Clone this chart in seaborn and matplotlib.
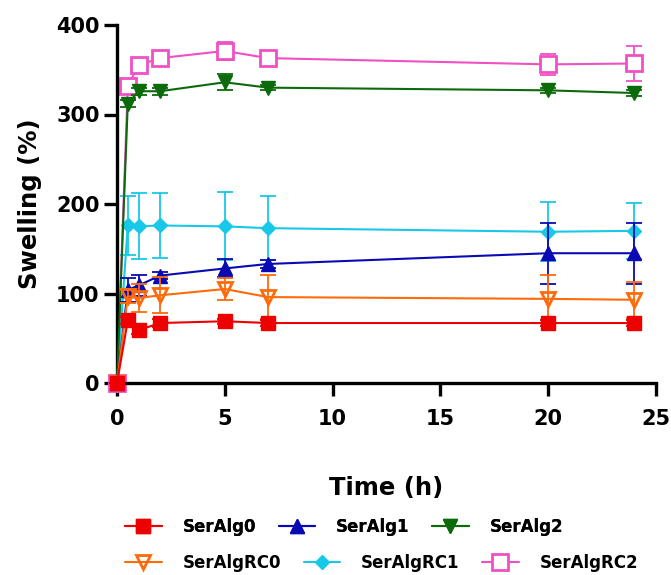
import matplotlib
matplotlib.use("Agg")
import matplotlib.pyplot as plt
import numpy as np
import pandas as pd
import seaborn as sns

# time points (h)
time_h = [0, 0.5, 1, 2, 5, 7, 20, 24]

# swelling means (%) and SD
seralg0     = [0, 70, 59, 67, 69, 67, 67, 67]
seralg0_sd  = [0, 4, 4, 4, 3, 3, 3, 3]
seralg1     = [0, 104, 109, 120, 128, 133, 145, 145]
seralg1_sd  = [0, 13, 12, 4, 10, 4, 34, 34]
seralg2     = [0, 312, 326, 326, 336, 330, 327, 324]
seralg2_sd  = [0, 4, 4, 4, 9, 3, 3, 3]
seralgrc0     = [0, 97, 95, 98, 105, 96, 94, 93]
seralgrc0_sd  = [0, 8, 16, 20, 12, 25, 27, 20]
seralgrc1     = [0, 176, 175, 176, 175, 173, 169, 170]
seralgrc1_sd  = [0, 33, 37, 36, 38, 36, 33, 31]
seralgrc2     = [0, 332, 355, 363, 371, 363, 356, 357]
seralgrc2_sd  = [0, 5, 5, 7, 10, 4, 12, 20]

names   = ["SerAlg0", "SerAlg1", "SerAlg2", "SerAlgRC0", "SerAlgRC1", "SerAlgRC2"]
means   = [seralg0, seralg1, seralg2, seralgrc0, seralgrc1, seralgrc2]
sds     = [seralg0_sd, seralg1_sd, seralg2_sd, seralgrc0_sd, seralgrc1_sd, seralgrc2_sd]
colors  = ["#ee0000", "#0a0ab4", "#0b6b0b", "#ff6a0a", "#18c8e8", "#f050c4"]
markers = ["s", "^", "v", "v", "D", "s"]
msizes  = [10, 10.5, 10.5, 10, 7, 11]
faces   = [None, None, None, "none", None, "white"]

sns.set_style("ticks")
plt.rcParams["font.family"] = ["DejaVu Sans"]
plt.rcParams["font.weight"] = "bold"
plt.rcParams["text.color"] = "black"
plt.rcParams["axes.labelcolor"] = "black"
plt.rcParams["xtick.color"] = "black"
plt.rcParams["ytick.color"] = "black"
plt.rcParams["axes.edgecolor"] = "black"

fig = plt.figure(figsize=(6.71, 5.75), dpi=100)
ax = fig.add_axes([117 / 671, 1 - 383 / 575, 539 / 671, 358 / 575])

# draw pink first so the filled series sit over it at t=0
draw_order = [5, 4, 2, 1, 3, 0]
handles = {}
for k, i in enumerate(draw_order):
    df = pd.DataFrame({"t": time_h, "y": means[i], "sd": sds[i]})
    ax.errorbar(df["t"], df["y"], yerr=df["sd"], fmt="none", ecolor=colors[i],
                elinewidth=1.3, capsize=6, capthick=1.3, zorder=2 + k,
                clip_on=False)
    fc = colors[i] if faces[i] is None else faces[i]
    sns.lineplot(data=df, x="t", y="y", ax=ax, color=colors[i], linewidth=1.5,
                 marker=markers[i], markersize=msizes[i], markerfacecolor=fc,
                 markeredgecolor=colors[i], markeredgewidth=2 if faces[i] else 1,
                 zorder=2.5 + k, clip_on=False, label=names[i])
    handles[names[i]] = ax.get_lines()[-1]

ax.set_xlim(0, 25)
ax.set_ylim(0, 400)
ax.set_xticks([0, 5, 10, 15, 20, 25])
ax.set_yticks([0, 100, 200, 300, 400])
sns.despine(ax=ax)
for s in ["left", "bottom"]:
    ax.spines[s].set_linewidth(2.4)
ax.tick_params(axis="both", width=2.4, length=9.5, labelsize=15)
ax.tick_params(axis="x", pad=9)
ax.tick_params(axis="y", pad=3)
for lab in ax.get_xticklabels() + ax.get_yticklabels():
    lab.set_fontweight("bold")

ax.set_xlabel("Time (h)", fontsize=17.5, fontweight="bold", labelpad=34)
ax.set_ylabel("Swelling (%)", fontsize=17.5, fontweight="bold", labelpad=10)

if ax.get_legend():
    ax.get_legend().remove()

leg_kw = dict(ncol=3, loc="center left", frameon=False, borderpad=0,
              borderaxespad=0, prop={"size": 12, "weight": "bold"},
              handlelength=2.2, handletextpad=1.25, columnspacing=1.35)
row1 = ["SerAlg0", "SerAlg1", "SerAlg2"]
row2 = ["SerAlgRC0", "SerAlgRC1", "SerAlgRC2"]
leg1 = fig.legend([handles[n] for n in row1], row1,
                  bbox_to_anchor=(125 / 671, 1 - 527 / 575), **leg_kw)
fig.add_artist(leg1)
fig.legend([handles[n] for n in row2], row2,
           bbox_to_anchor=(125 / 671, 1 - 563 / 575), **leg_kw)

fig.savefig("out.png", dpi=100)
